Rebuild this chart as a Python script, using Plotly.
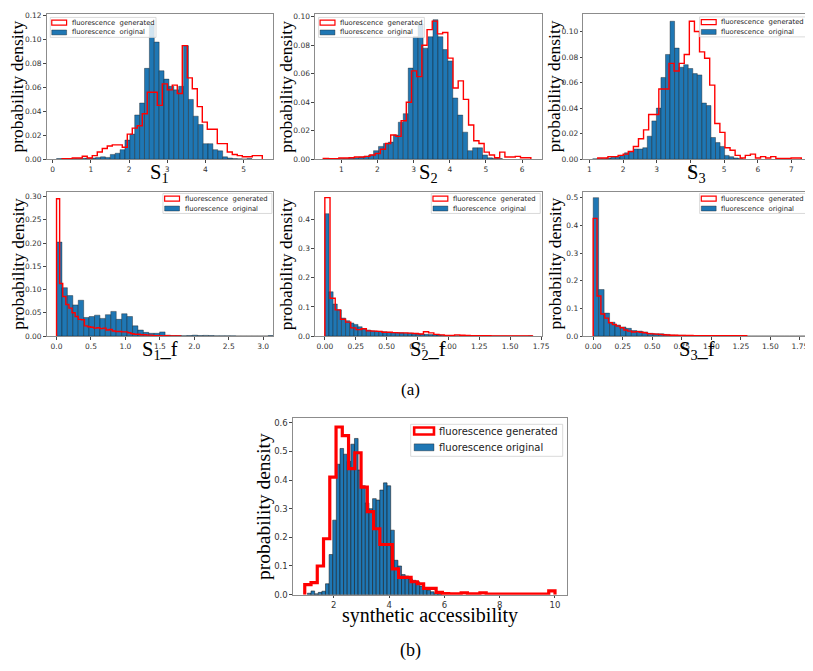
import plotly.graph_objects as go

# ------------------------------------------------------------------ data
# each histogram: left edge of first bin, bin width, densities per bin
S1_ORIG_START, S1_ORIG_WIDTH = 0.10, 0.128
S1_ORIG = [0.0005, 0.0005, 0.0003, 0.0005, 0.0005, 0.0008, 0.001, 0.001, 0.0015, 0.002,
           0.0015, 0.004, 0.005, 0.008, 0.016, 0.021, 0.037, 0.047, 0.076, 0.113,
           0.098, 0.074, 0.067, 0.061, 0.058, 0.061, 0.095, 0.050, 0.036, 0.029,
           0.013, 0.013, 0.008, 0.007, 0.002, 0.001, 0.0005, 0.0003, 0.0002, 0.0005]
S1_GEN_START, S1_GEN_WIDTH = 0.25, 0.131
S1_GEN = [0.0005, 0.0005, 0.001, 0.001, 0.0025, 0.001, 0.003, 0.006, 0.009, 0.011,
          0.012, 0.012, 0.010, 0.021, 0.026, 0.028, 0.038, 0.056, 0.056, 0.045,
          0.063, 0.058, 0.062, 0.055, 0.095, 0.068, 0.059, 0.044, 0.031, 0.025,
          0.025, 0.013, 0.013, 0.006, 0.004, 0.003, 0.002, 0.002, 0.003, 0.003]

S2_ORIG_START, S2_ORIG_WIDTH = 0.52, 0.137
S2_ORIG = [0.0003, 0.0003, 0.0003, 0.0005, 0.0005, 0.001, 0.001, 0.0015, 0.002, 0.003,
           0.006, 0.009, 0.011, 0.012, 0.017, 0.026, 0.032, 0.064, 0.086, 0.095,
           0.078, 0.086, 0.098, 0.086, 0.077, 0.069, 0.043, 0.031, 0.019, 0.006,
           0.008, 0.008, 0.003, 0.001, 0.0005, 0.0005]
S2_GEN_START, S2_GEN_WIDTH = 0.50, 0.1435
S2_GEN = [0.0005, 0.0003, 0.0003, 0.0008, 0.0008, 0.001, 0.0015, 0.0015, 0.002, 0.003,
          0.004, 0.007, 0.011, 0.017, 0.016, 0.027, 0.040, 0.062, 0.058, 0.080,
          0.091, 0.097, 0.088, 0.089, 0.071, 0.050, 0.055, 0.042, 0.024, 0.013,
          0.011, 0.005, 0.003, 0.001, 0.005, 0.0015, 0.0015, 0.002, 0.001, 0.001]

S3_ORIG_START, S3_ORIG_WIDTH = 1.10, 0.135
S3_ORIG = [0.0003, 0.0005, 0.0005, 0.001, 0.0015, 0.002, 0.003, 0.005, 0.006, 0.008,
           0.008, 0.009, 0.018, 0.030, 0.040, 0.064, 0.082, 0.108, 0.087, 0.072,
           0.074, 0.071, 0.067, 0.066, 0.044, 0.042, 0.017, 0.013, 0.010, 0.003,
           0.002, 0.001, 0.0005]
S3_GEN_START, S3_GEN_WIDTH = 1.25, 0.151
S3_GEN = [0.001, 0.001, 0.002, 0.002, 0.003, 0.004, 0.006, 0.010, 0.016, 0.023,
          0.035, 0.035, 0.055, 0.055, 0.075, 0.069, 0.075, 0.082, 0.108, 0.100,
          0.084, 0.079, 0.058, 0.028, 0.021, 0.009, 0.007, 0.003, 0.001, 0.003,
          0.004, 0.001, 0.002, 0.001, 0.002, 0.0005, 0.0005, 0.0005, 0.001, 0.001]

S1F_ORIG_START, S1F_ORIG_WIDTH = 0.0, 0.0788
S1F_ORIG = [0.202, 0.104, 0.087, 0.067, 0.077, 0.040, 0.042, 0.045, 0.038, 0.046,
            0.053, 0.036, 0.048, 0.042, 0.022, 0.013, 0.008, 0.006, 0.006, 0.009,
            0.002, 0.001, 0.001, 0.0008, 0.001, 0.002, 0.001, 0.0015, 0.001, 0.0005,
            0.0005, 0.0005, 0.0005, 0.0003, 0.0003, 0.0003, 0.0003, 0.0003, 0.0003, 0.001]
S1F_GEN_START, S1F_GEN_WIDTH = 0.0, 0.045
S1F_GEN = [0.295, 0.113, 0.085, 0.068, 0.060, 0.050, 0.042, 0.036, 0.035, 0.022,
           0.020, 0.019, 0.017, 0.018, 0.016, 0.017, 0.013, 0.014, 0.011, 0.010,
           0.010, 0.009, 0.009, 0.007, 0.005, 0.004, 0.004, 0.003, 0.003, 0.002,
           0.002, 0.001, 0.001, 0.001, 0.0005, 0.001, 0.0005, 0.0005, 0.0005, 0.0005]

S2F_ORIG_START, S2F_ORIG_WIDTH = 0.0, 0.0336
S2F_ORIG = [0.42, 0.152, 0.110, 0.090, 0.062, 0.053, 0.045, 0.040, 0.032, 0.025,
            0.021, 0.018, 0.017, 0.016, 0.015, 0.013, 0.012, 0.012, 0.011, 0.010,
            0.010, 0.009, 0.008, 0.007, 0.006, 0.005, 0.005, 0.004, 0.003, 0.002,
            0.002, 0.001, 0.001, 0.001, 0.0008, 0.0008, 0.0005, 0.0005, 0.0005, 0.0005,
            0.0003, 0.0003, 0.0003, 0.0003, 0.0003, 0.0003, 0.0003, 0.0003, 0.0003, 0.001]
S2F_GEN_START, S2F_GEN_WIDTH = 0.0, 0.042
S2F_GEN = [0.475, 0.130, 0.090, 0.058, 0.048, 0.028, 0.022, 0.025, 0.018, 0.017,
           0.016, 0.013, 0.013, 0.012, 0.011, 0.011, 0.010, 0.009, 0.007, 0.015,
           0.011, 0.006, 0.004, 0.002, 0.002, 0.004, 0.003, 0.002, 0.001, 0.001,
           0.001, 0.001, 0.0008, 0.0008, 0.0008, 0.0008, 0.0008, 0.0008, 0.0008, 0.0008]

S3F_ORIG_START, S3F_ORIG_WIDTH = 0.0, 0.0462
S3F_ORIG = [0.50, 0.168, 0.083, 0.050, 0.040, 0.033, 0.028, 0.020, 0.018, 0.015,
            0.010, 0.008, 0.008, 0.006, 0.004, 0.003, 0.003, 0.002, 0.002, 0.0015,
            0.001, 0.001, 0.0008, 0.0008, 0.0005, 0.0005, 0.0005, 0.0005, 0.0003, 0.0003,
            0.0003, 0.0003, 0.0003, 0.0003, 0.0002, 0.0002, 0.0002, 0.0002, 0.0002, 0.001]
S3F_GEN_START, S3F_GEN_WIDTH = 0.0, 0.0325
S3F_GEN = [0.425, 0.145, 0.080, 0.065, 0.048, 0.042, 0.036, 0.030, 0.022, 0.018,
           0.015, 0.016, 0.014, 0.012, 0.009, 0.008, 0.007, 0.006, 0.005, 0.004,
           0.003, 0.003, 0.002, 0.002, 0.002, 0.002, 0.0015, 0.0015, 0.001, 0.001,
           0.001, 0.001, 0.001, 0.001, 0.001, 0.001, 0.001, 0.001, 0.001, 0.001]

SA_ORIG_START, SA_ORIG_WIDTH = 1.045, 0.131
SA_ORIG = [0.005, 0.013, 0.003, 0.008, 0.012, 0.038, 0.14, 0.26, 0.455, 0.51,
           0.49, 0.465, 0.525, 0.545, 0.435, 0.38, 0.32, 0.30, 0.335, 0.33,
           0.365, 0.39, 0.38, 0.225, 0.12, 0.10, 0.07, 0.065, 0.055, 0.05,
           0.045, 0.03, 0.02, 0.015, 0.01, 0.005, 0.003]
SA_GEN_START, SA_GEN_WIDTH = 0.95, 0.22625
SA_GEN = [0.035, 0.042, 0.100, 0.195, 0.41, 0.585, 0.555, 0.44, 0.495, 0.375,
          0.29, 0.23, 0.175, 0.175, 0.09, 0.06, 0.06, 0.045, 0.038, 0.022,
          0.022, 0.008, 0.004, 0.003, 0.003, 0.006, 0.003, 0.003, 0.006, 0.002,
          0.002, 0.002, 0.002, 0.002, 0.002, 0.002, 0.002, 0.002, 0.002, 0.013]

# tick values
S1_XTICKS = [0, 1, 2, 3, 4, 5]
S2_XTICKS = [1, 2, 3, 4, 5, 6]
S3_XTICKS = [1, 2, 3, 4, 5, 6, 7]
SF1_XTICKS = [0.0, 0.5, 1.0, 1.5, 2.0, 2.5, 3.0]
SF_XTICKS = [0.0, 0.25, 0.5, 0.75, 1.0, 1.25, 1.5, 1.75]
SA_XTICKS = [2, 4, 6, 8, 10]
S1_YTICKS = [0.0, 0.02, 0.04, 0.06, 0.08, 0.10, 0.12]
S23_YTICKS = [0.0, 0.02, 0.04, 0.06, 0.08, 0.10]
S1F_YTICKS = [0.0, 0.05, 0.10, 0.15, 0.20, 0.25, 0.30]
SF_YTICKS = [0.0, 0.1, 0.2, 0.3, 0.4]
S3F_YTICKS = [0.0, 0.1, 0.2, 0.3, 0.4, 0.5]
SA_YTICKS = [0.0, 0.1, 0.2, 0.3, 0.4, 0.5, 0.6]

LEGEND_LABELS = ["fluorescence\u00a0 generated", "fluorescence\u00a0 original"]
LEGEND_LABELS_B = ["fluorescence generated", "fluorescence original"]
Y_TITLE = "probability density"
X_TITLES = ["S<sub>1</sub>", "S<sub>2</sub>", "S<sub>3</sub>",
            "S<sub>1</sub>_f", "S<sub>2</sub>_f", "S<sub>3</sub>_f",
            "synthetic accessibility"]

# ------------------------------------------------------------------ style / layout
W, H = 813, 671
BLUE = '#1f77b4'
RED = '#ff0000'
SERIF = 'Liberation Serif, Times New Roman, serif'
SANS = 'DejaVu Sans, sans-serif'

panels = [
    dict(o=(S1_ORIG_START, S1_ORIG_WIDTH, S1_ORIG), g=(S1_GEN_START, S1_GEN_WIDTH, S1_GEN),
         box=(39, 3, 268, 150), xr=[-0.16, 5.78], yr=[0, 0.1215],
         xt=S1_XTICKS, xf='{:g}', yt=S1_YTICKS, yf='{:.2f}', leg='tl', small=True,
         xlab_y=164, ylab_x=9),
    dict(o=(S2_ORIG_START, S2_ORIG_WIDTH, S2_ORIG), g=(S2_GEN_START, S2_GEN_WIDTH, S2_GEN),
         box=(310, 3, 539, 150), xr=[0.27, 6.54], yr=[0, 0.102],
         xt=S2_XTICKS, xf='{:g}', yt=S23_YTICKS, yf='{:.2f}', leg='tl', small=True,
         xlab_y=164, ylab_x=280),
    dict(o=(S3_ORIG_START, S3_ORIG_WIDTH, S3_ORIG), g=(S3_GEN_START, S3_GEN_WIDTH, S3_GEN),
         box=(581, 3, 810, 150), xr=[0.82, 7.55], yr=[0, 0.1137],
         xt=S3_XTICKS, xf='{:g}', yt=S23_YTICKS, yf='{:.2f}', leg='tr', small=True,
         xlab_y=164, ylab_x=551),
    dict(o=(S1F_ORIG_START, S1F_ORIG_WIDTH, S1F_ORIG), g=(S1F_GEN_START, S1F_GEN_WIDTH, S1F_GEN),
         box=(39, 183, 268, 329), xr=[-0.144, 3.148], yr=[0, 0.31],
         xt=SF1_XTICKS, xf='{:.1f}', yt=S1F_YTICKS, yf='{:.2f}', leg='tr', small=True,
         xlab_y=344, ylab_x=10),
    dict(o=(S2F_ORIG_START, S2F_ORIG_WIDTH, S2F_ORIG), g=(S2F_GEN_START, S2F_GEN_WIDTH, S2F_GEN),
         box=(310, 183, 539, 329), xr=[-0.08, 1.755], yr=[0, 0.495],
         xt=SF_XTICKS, xf='{:.2f}', yt=SF_YTICKS, yf='{:.1f}', leg='tr', small=True,
         xlab_y=344, ylab_x=281),
    dict(o=(S3F_ORIG_START, S3F_ORIG_WIDTH, S3F_ORIG), g=(S3F_GEN_START, S3F_GEN_WIDTH, S3F_GEN),
         box=(581, 183, 810, 329), xr=[-0.084, 1.836], yr=[0, 0.521],
         xt=SF_XTICKS, xf='{:.2f}', yt=S3F_YTICKS, yf='{:.1f}', leg='tr', small=True,
         xlab_y=344, ylab_x=552),
    dict(o=(SA_ORIG_START, SA_ORIG_WIDTH, SA_ORIG), g=(SA_GEN_START, SA_GEN_WIDTH, SA_GEN),
         box=(287.7, 412.3, 565, 590.7), xr=[0.52, 10.45], yr=[0, 0.615],
         xt=SA_XTICKS, xf='{:g}', yt=SA_YTICKS, yf='{:.1f}', leg='b', small=False,
         xlab_y=612, ylab_x=258),
]

fig = go.Figure()
layout = dict(width=W, height=H, margin=dict(l=0, r=0, t=0, b=0),
              paper_bgcolor='white', plot_bgcolor='white', showlegend=False,
              barmode='overlay')
shapes, annots = [], []


def px(x):
    return x / W


def py(y):
    return 1 - y / H


for i, p in enumerate(panels, start=1):
    xa, ya = ('x' if i == 1 else f'x{i}'), ('y' if i == 1 else f'y{i}')
    x0, y0, x1, y1 = p['box']
    small = p['small']
    tfs = 7.5 if small else 8.5

    # original: bars
    s, w, vals = p['o']
    fig.add_trace(go.Bar(
        x=[s + w * (k + 0.5) for k in range(len(vals))], y=vals, width=w,
        marker=dict(color=BLUE, line=dict(color='rgba(20,20,20,0.75)', width=0.5 if small else 0.7)),
        name='fluorescence original', xaxis=xa, yaxis=ya))
    # generated: step outline
    s, w, vals = p['g']
    edges = [s + w * k for k in range(len(vals) + 1)]
    fig.add_trace(go.Scatter(
        x=[edges[0]] + edges[:-1] + [edges[-1]], y=[0] + list(vals) + [0],
        mode='lines', line=dict(color=RED, width=1.4 if small else 3.2, shape='hv'),
        name='fluorescence generated', xaxis=xa, yaxis=ya))

    axcommon = dict(showgrid=False, zeroline=False, showline=True, linecolor='#8c8c8c',
                    linewidth=1, mirror=True, ticks='outside', ticklen=2.5, tickwidth=0.8,
                    tickcolor='#444', tickfont=dict(family=SANS, size=tfs, color='#333'))
    layout['xaxis' if i == 1 else f'xaxis{i}'] = dict(
        domain=[px(x0), px(x1)], range=p['xr'], anchor=ya,
        tickvals=p['xt'], ticktext=[p['xf'].format(v) for v in p['xt']], **axcommon)
    layout['yaxis' if i == 1 else f'yaxis{i}'] = dict(
        domain=[py(y1), py(y0)], range=p['yr'], anchor=xa,
        tickvals=p['yt'], ticktext=[p['yf'].format(v) for v in p['yt']], **axcommon)

    # axis titles
    annots.append(dict(text=X_TITLES[i - 1], x=px((x0 + x1) / 2), y=py(p['xlab_y']),
                       xref='paper', yref='paper', showarrow=False, xanchor='center', yanchor='middle',
                       font=dict(family=SERIF, size=20.5 if small else 20, color='black')))
    annots.append(dict(text=Y_TITLE, x=px(p['ylab_x']), y=py((y0 + y1) / 2),
                       xref='paper', yref='paper', showarrow=False, textangle=-90,
                       xanchor='center', yanchor='middle',
                       font=dict(family=SERIF, size=17.5 if small else 19.5, color='black')))

    # legend (drawn as a frame with two handles and labels)
    if p['leg'] == 'tl':
        bx0, bx1, by0, by1 = x0 + 3.7, x0 + 110.5, y0 + 3.5, y0 + 23.7
        hx0, hx1, rows, hh, tx, lfs, labels = x0 + 5.2, x0 + 20.2, (y0 + 8.7, y0 + 18.7), 5, x0 + 24.5, 6.8, LEGEND_LABELS
    elif p['leg'] == 'tr':
        dy = 0.5 if i == 3 else -0.8
        bx0, bx1, by0, by1 = x1 - 111.5, x1 - 1.5, y0 + 2.5 + dy, y0 + 22.7 + dy
        hx0, hx1, rows, hh, tx, lfs, labels = x1 - 109.8, x1 - 94.8, (y0 + 7.7 + dy, y0 + 17.7 + dy), 5, x1 - 90.5, 6.8, LEGEND_LABELS
    else:
        bx0, bx1, by0, by1 = x0 + 119, x0 + 272.5, y0 + 6, y0 + 38.4
        hx0, hx1, rows, hh, tx, lfs, labels = x0 + 122.5, x0 + 142.5, (y0 + 12.8, y0 + 29.3), 7, x0 + 146.5, 10, LEGEND_LABELS_B
    shapes.append(dict(type='rect', xref='paper', yref='paper', x0=px(bx0), x1=px(bx1),
                       y0=py(by1), y1=py(by0), fillcolor='rgba(255,255,255,0.8)',
                       line=dict(color='#d0d0d0', width=0.8), layer='above'))
    # generated handle: red outline
    shapes.append(dict(type='rect', xref='paper', yref='paper', x0=px(hx0), x1=px(hx1),
                       y0=py(rows[0] + hh / 2), y1=py(rows[0] - hh / 2), fillcolor='white',
                       line=dict(color=RED, width=1.2 if small else 2.6), layer='above'))
    # original handle: blue filled
    shapes.append(dict(type='rect', xref='paper', yref='paper', x0=px(hx0), x1=px(hx1),
                       y0=py(rows[1] + hh / 2), y1=py(rows[1] - hh / 2), fillcolor=BLUE,
                       line=dict(color='rgba(20,20,20,0.75)', width=0.5), layer='above'))
    for r, lab in zip(rows, labels):
        annots.append(dict(text=lab, x=px(tx), y=py(r), xref='paper', yref='paper',
                           showarrow=False, xanchor='left', yanchor='middle', borderpad=0,
                           font=dict(family=SANS, size=lfs, color='#222')))

annots.append(dict(text='(a)', x=px(406.5), y=py(383), xref='paper', yref='paper', showarrow=False,
                   font=dict(family=SERIF, size=17, color='black')))
annots.append(dict(text='(b)', x=px(406.7), y=py(660), xref='paper', yref='paper', showarrow=False,
                   font=dict(family=SERIF, size=18, color='black')))

layout['shapes'] = shapes
layout['annotations'] = annots
fig.update_layout(**layout)
fig.write_html("out.html")
